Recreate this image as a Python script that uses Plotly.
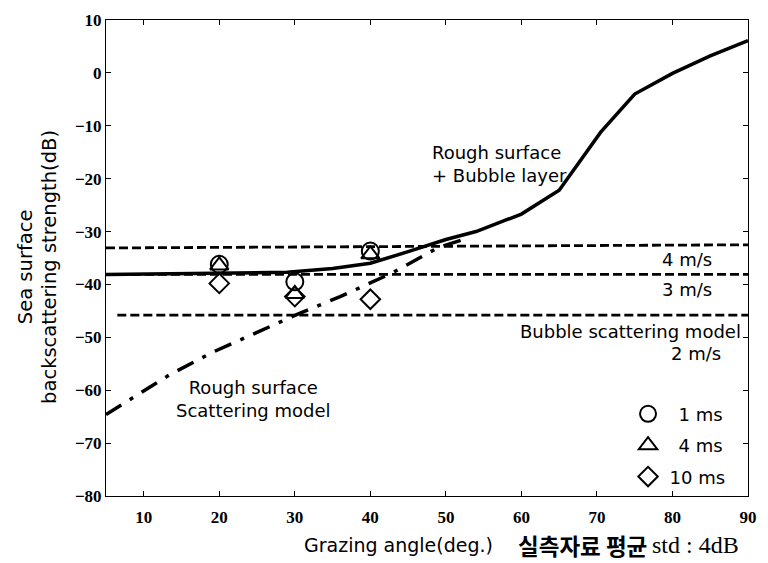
import plotly.graph_objects as go

# ---- data ----
solid_x = [5, 15, 25, 29, 35, 40, 45, 50, 54, 60, 65, 68, 70.5, 75, 80, 85, 90]
solid_y = [-38.1, -38.0, -37.9, -37.7, -37.0, -36.0, -33.8, -31.5, -30.0, -26.7, -22.2, -16.2, -11.2, -4.0, -0.1, 3.2, 6.1]

rough_x = [5, 10, 13.4, 19, 25, 30.4, 36, 42.8, 49, 53]
rough_y = [-64.6, -60.2, -57.1, -52.9, -49.0, -45.6, -42.3, -37.9, -33.0, -31.2]

wind4_x = [5, 90]
wind4_y = [-33.1, -32.5]
wind3_x = [5, 90]
wind3_y = [-38.1, -38.1]
wind2_x = [6.5, 90]
wind2_y = [-45.8, -45.8]

meas_x = [20, 30, 40]
ms1_y = [-36.2, -39.5, -33.7]
ms4_y = [-36.4, -41.8, -34.3]
ms10_y = [-39.8, -42.3, -42.8]

x_ticks = [10, 20, 30, 40, 50, 60, 70, 80, 90]
y_ticks = [-80, -70, -60, -50, -40, -30, -20, -10, 0, 10]

SANS = "DejaVu Sans"
SERIF = "Liberation Serif"

fig = go.Figure()

dash_style = "9px,4px"
for xs, ys in [(wind4_x, wind4_y), (wind3_x, wind3_y), (wind2_x, wind2_y)]:
    fig.add_trace(go.Scatter(x=xs, y=ys, mode="lines", showlegend=False,
                             line=dict(color="black", width=2.8, dash=dash_style)))

fig.add_trace(go.Scatter(x=rough_x, y=rough_y, mode="lines", showlegend=False,
                         line=dict(color="black", width=3.5, dash="18px,10px,4px,10px")))

fig.add_trace(go.Scatter(x=solid_x, y=solid_y, mode="lines", showlegend=False,
                         line=dict(color="black", width=3.5)))

for name, ys, sym, sz, grp in [("\u20021 ms", ms1_y, "circle-open", 17, "a"),
                                ("\u20024 ms", ms4_y, "triangle-up-open", 16, "b"),
                                ("10 ms", ms10_y, "diamond-open", 15, "c")]:
    fig.add_trace(go.Scatter(x=meas_x, y=ys, mode="markers", name=name, legendgroup=grp,
                             marker=dict(symbol=sym, size=sz, color="black",
                                         line=dict(color="black", width=2))))

annotations = [
    dict(x=47.9, y=-17.3, xref="x", yref="y", text="Rough surface<br>+ Bubble layer",
         xanchor="left", yanchor="middle", align="left", showarrow=False),
    dict(x=85.5, y=-35.2, xref="x", yref="y", text="4 m/s", xanchor="right", yanchor="middle", showarrow=False),
    dict(x=85.5, y=-41.0, xref="x", yref="y", text="3 m/s", xanchor="right", yanchor="middle", showarrow=False),
    dict(x=89.3, y=-48.9, xref="x", yref="y", text="Bubble scattering model", xanchor="right", yanchor="middle", showarrow=False),
    dict(x=86.7, y=-53.0, xref="x", yref="y", text="2 m/s", xanchor="right", yanchor="middle", showarrow=False),
    dict(x=24.5, y=-61.7, xref="x", yref="y", text="Rough surface<br>Scattering model",
         xanchor="center", yanchor="middle", align="center", showarrow=False),
    dict(x=0.3057, y=-0.102, xref="paper", yref="paper", text="Grazing angle(deg.)",
         xanchor="left", yanchor="middle", showarrow=False, font=dict(family=SANS, size=19, color="black")),
    dict(x=0.638, y=-0.102, xref="paper", yref="paper", text="<b>실측자료 평균</b>",
         xanchor="left", yanchor="middle", showarrow=False, font=dict(family="Noto Sans CJK KR", size=22.5, color="black")),
    dict(x=0.848, y=-0.102, xref="paper", yref="paper", text="std : 4dB",
         xanchor="left", yanchor="middle", showarrow=False, font=dict(family=SERIF, size=24, color="black")),
    dict(x=-0.126, y=0.481, xref="paper", yref="paper", text="Sea surface", textangle=-90,
         xanchor="center", yanchor="middle", showarrow=False, font=dict(family=SANS, size=19.5, color="black")),
    dict(x=-0.0890, y=0.481, xref="paper", yref="paper", text="backscattering strength(dB)", textangle=-90,
         xanchor="center", yanchor="middle", showarrow=False, font=dict(family=SANS, size=19.5, color="black")),
]

fig.update_layout(
    width=768, height=563,
    margin=dict(l=106, r=11, t=16, b=67),
    paper_bgcolor="white", plot_bgcolor="white",
    font=dict(family=SANS, size=18, color="black"),
    annotations=annotations,
    showlegend=True,
    legend=dict(x=0.8108, y=0.211, xanchor="left", yanchor="top", bgcolor="rgba(0,0,0,0)",
                itemwidth=33, tracegroupgap=5, font=dict(family=SANS, size=18, color="black")),
)

fig.update_xaxes(range=[5, 90], tickvals=x_ticks, ticks="inside", ticklen=5, tickcolor="black",
                 showline=True, linecolor="black", linewidth=1, mirror="ticks", showgrid=False,
                 zeroline=False, ticklabelstandoff=6,
                 tickfont=dict(family=SERIF, size=17, color="black", weight="bold"))
fig.update_yaxes(range=[-80, 10], tickvals=y_ticks, ticks="inside", ticklen=5, tickcolor="black",
                 showline=True, linecolor="black", linewidth=1, mirror="ticks", showgrid=False,
                 zeroline=False,
                 tickfont=dict(family=SERIF, size=17, color="black", weight="bold"))

fig.write_html("out.html")
